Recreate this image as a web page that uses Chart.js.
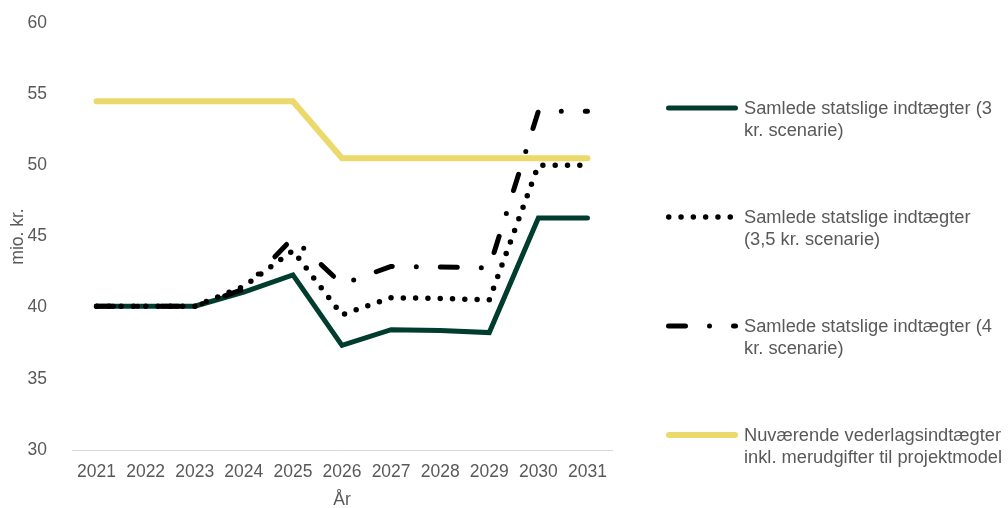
<!DOCTYPE html>
<html>
<head>
<meta charset="utf-8">
<script src="https://cdn.jsdelivr.net/npm/chart.js@4/dist/chart.umd.min.js"></script>
<style>
  html, body { margin: 0; padding: 0; background: #fff; }
  #wrap { width: 1008px; height: 508px; }
</style>
</head>
<body>
<div id="wrap"><canvas id="chart" width="1008" height="508"></canvas></div>
<script>
const years = ['2021', '2022', '2023', '2024', '2025', '2026', '2027', '2028', '2029', '2030', '2031'];
const scenario3 = [40.1, 40.1, 40.1, 41.1, 42.3, 37.35, 38.45, 38.4, 38.25, 46.3, 46.3];
const scenario35 = [40.1, 40.1, 40.1, 41.5, 44.0, 39.5, 40.7, 40.65, 40.55, 50.0, 50.0];
const scenario4 = [40.1, 40.1, 40.1, 41.3, 44.9, 41.65, 42.9, 42.85, 42.8, 53.8, 53.8];
const vederlag = [54.5, 54.5, 54.5, 54.5, 54.5, 50.5, 50.5, 50.5, 50.5, 50.5, 50.5];

const labels3 = ['Samlede statslige indtægter (3', 'kr. scenarie)'];
const labels35 = ['Samlede statslige indtægter', '(3,5 kr. scenarie)'];
const labels4 = ['Samlede statslige indtægter (4', 'kr. scenarie)'];
const labelsV = ['Nuværende vederlagsindtægter', 'inkl. merudgifter til projektmodel'];

const textColor = '#595959';
const fontFamily = '"Liberation Sans", Arial, sans-serif';
const fontSize = 17.5;
const legendFontSize = 18.3;

// legend drawn by hand so the labels can wrap and keep the wide spacing
const sideLegend = {
    id: 'sideLegend',
    afterDraw(chart) {
        const ctx = chart.ctx;
        const x0 = 666, x1 = 738, tx = 744;
        const top = 108, step = 109, lineH = 22;
        chart.data.datasets.forEach((ds, i) => {
            const y = top + i * step;
            ctx.save();
            ctx.strokeStyle = ds.borderColor;
            ctx.lineWidth = ds.borderWidth;
            ctx.lineCap = ds.borderCapStyle || 'butt';
            ctx.setLineDash(ds.borderDash || []);
            ctx.beginPath();
            ctx.moveTo(x0 + ds.borderWidth / 2, y);
            ctx.lineTo(x1 - ds.borderWidth / 2, y);
            ctx.stroke();
            ctx.restore();

            ctx.save();
            ctx.fillStyle = textColor;
            ctx.font = legendFontSize + 'px ' + fontFamily;
            ctx.textBaseline = 'middle';
            ctx.textAlign = 'left';
            ds.legendText.forEach((t, j) => ctx.fillText(t, tx, y + 1 + j * lineH));
            ctx.restore();
        });
    }
};

new Chart(document.getElementById('chart'), {
    type: 'line',
    data: {
        labels: years,
        datasets: [{
            label: labels3.join(' '),
            legendText: labels3,
            data: scenario3,
            borderColor: '#013d2f',
            borderWidth: 5,
            borderCapStyle: 'round',
            borderJoinStyle: 'miter',
            order: 3
        }, {
            label: labels35.join(' '),
            legendText: labels35,
            data: scenario35,
            borderColor: '#000000',
            borderWidth: 5.5,
            borderDash: [0, 12.3],
            borderCapStyle: 'round',
            borderJoinStyle: 'round',
            order: 2
        }, {
            label: labels4.join(' '),
            legendText: labels4,
            data: scenario4,
            borderColor: '#000000',
            borderWidth: 5,
            borderDash: [17, 24, 0, 24],
            borderCapStyle: 'round',
            borderJoinStyle: 'round',
            order: 1
        }, {
            label: labelsV.join(' '),
            legendText: labelsV,
            data: vederlag,
            borderColor: '#ebd96c',
            borderWidth: 6,
            borderCapStyle: 'round',
            borderJoinStyle: 'miter',
            order: 4
        }]
    },
    options: {
        responsive: false,
        animation: false,
        events: [],
        elements: {
            point: { radius: 0 },
            line: { tension: 0, fill: false }
        },
        layout: { padding: { top: 23, right: 396, left: 0, bottom: 0 } },
        plugins: {
            legend: { display: false },
            tooltip: { enabled: false }
        },
        scales: {
            x: {
                offset: true,
                grid: { display: false },
                border: { display: true, color: '#d9d9d9', width: 1 },
                ticks: {
                    color: textColor,
                    font: { family: fontFamily, size: fontSize },
                    padding: 4,
                    maxRotation: 0,
                    autoSkip: false
                },
                title: {
                    display: true,
                    text: 'År',
                    color: textColor,
                    font: { family: fontFamily, size: fontSize },
                    padding: { top: 0, bottom: -3 }
                },
                afterFit(scale) { scale.height = 58; }
            },
            y: {
                min: 30,
                max: 60,
                grid: { display: false },
                border: { display: false },
                ticks: {
                    stepSize: 5,
                    color: textColor,
                    font: { family: fontFamily, size: fontSize },
                    padding: 17
                },
                title: {
                    display: true,
                    text: 'mio. kr.',
                    color: textColor,
                    font: { family: fontFamily, size: fontSize },
                    padding: { top: 8, bottom: 0 }
                },
                // fixed width; the tick padding should not push the plot area down
                afterFit(scale) {
                    scale.width = 72;
                    scale.paddingTop = 0;
                    scale.paddingBottom = 0;
                }
            }
        }
    },
    plugins: [sideLegend]
});
</script>
</body>
</html>
